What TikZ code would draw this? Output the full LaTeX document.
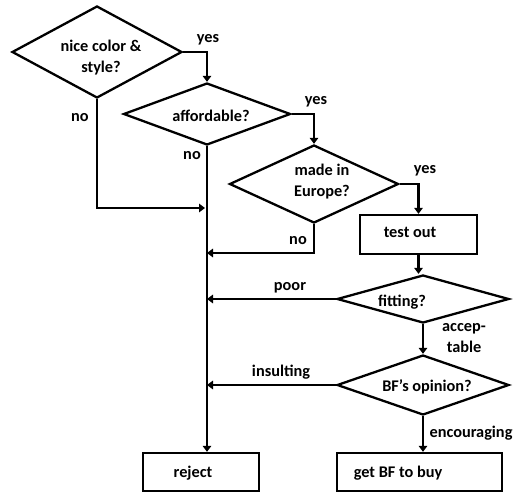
\documentclass[tikz,border=0pt]{standalone}
\usepackage{fontspec}
\setmainfont{Carlito}
\usetikzlibrary{shapes.geometric,arrows.meta,calc}

\begin{document}
\begin{tikzpicture}[x=1pt,y=-1pt,
  every node/.style={font=\bfseries\fontsize{16.3}{21}\selectfont},
  decision/.style={diamond,draw,line width=2.3pt,inner sep=0pt,minimum width=#1},
  stepbox/.style={rectangle,draw,line width=2.3pt,inner sep=0pt},
  txt/.style={inner sep=0pt,align=center},
  flow/.style={line width=2.3pt,-{Triangle[length=6pt,width=8.5pt]}},
  plain/.style={line width=2.3pt}]
\useasboundingbox (0,0) rectangle (524,493);

% decisions and actions
\node[decision=170pt,minimum height=92pt,shape aspect=1.85] (d1) at (97,52) {};
\node[decision=167pt,minimum height=62pt,shape aspect=2.69] (d2) at (207,114) {};
\node[decision=169pt,minimum height=78pt,shape aspect=2.17] (d3) at (314,184) {};
\node[stepbox,minimum width=117pt,minimum height=39pt] (test) at (418.5,234.5) {};
\node[decision=172pt,minimum height=48pt,shape aspect=3.58] (d4) at (423,299) {};
\node[decision=172pt,minimum height=60pt,shape aspect=2.87] (d5) at (423,385) {};
\node[stepbox,minimum width=116pt,minimum height=38pt] (reject) at (201,472) {};
\node[stepbox,minimum width=165pt,minimum height=38pt] (buy) at (419.5,472) {};

% texts inside the shapes
\node[txt] (t1) at (101,58) {nice color \&\\style?};
\node[txt] (t2) at (211,116) {affordable?};
\node[txt] (t3) at (322,182) {made in\\Europe?};
\node[txt] (t4) at (410,232) {test out};
\node[txt] (t5) at (402,302) {fitting?};
\node[txt] (t6) at (427,387) {BF’s opinion?};
\node[txt] (t7) at (193,473) {reject};
\node[txt] (t8) at (398,473) {get BF to buy};

% junctions on the reject line
\coordinate (j1) at (205,208);
\coordinate (j2) at (207,253);

% connectors
\draw[flow] (d1.east) -| (d2.north);
\draw[flow] (d2.east) -| (d3.north);
\draw[flow] (d3.east) -| (test.north);
\draw[flow] (d1.south) |- (j1);
\draw[flow] (d3.south) |- (j2);
\draw[flow] (d2.south) -- (d2.south |- reject.north);
\draw[flow] (test.south) -- (test.south |- d4.north);
\draw[flow] (d4.west) -- (d4.west -| j2);
\draw[flow] (d4.south) -- (d5.north);
\draw[flow] (d5.west) -- (d5.west -| j2);
\draw[flow] (d5.south) -- (d5.south |- buy.north);

% branch labels
\node[txt] (l1) at (208,40) {yes};
\node[txt] (l2) at (80,118) {no};
\node[txt] (l3) at (316,102) {yes};
\node[txt] (l4) at (192,156) {no};
\node[txt] (l5) at (425,171) {yes};
\node[txt] (l6) at (298,241) {no};
\node[txt] (l7) at (290,288) {poor};
\node[txt] (l8) at (464,338.5) {accep-\\table};
\node[txt] (l9) at (281,372) {insulting};
\node[txt] (l10) at (471,433) {encouraging};
\end{tikzpicture}
\end{document}
